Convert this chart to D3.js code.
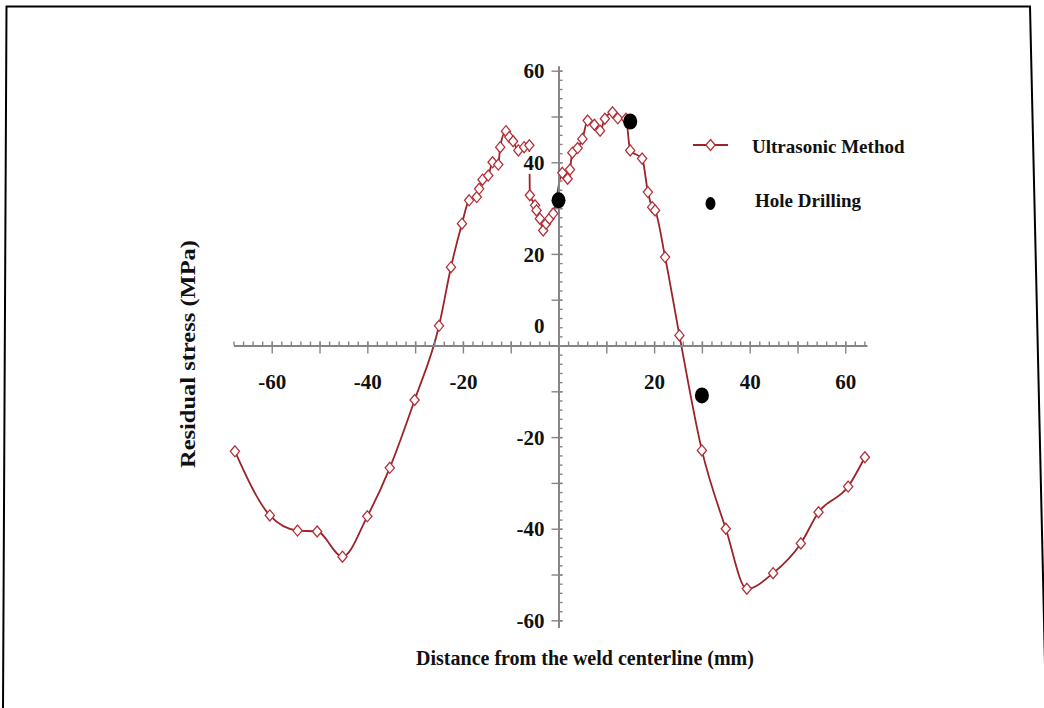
<!DOCTYPE html>
<html>
<head>
<meta charset="utf-8">
<script src="https://cdn.jsdelivr.net/npm/d3@7"></script>
<style>
  html, body { margin: 0; padding: 0; background: #fff; }
  svg { display: block; }
  text { font-family: "Liberation Serif", "Times New Roman", serif; font-weight: bold; fill: #111; }
</style>
</head>
<body>
<svg id="chart" width="1044" height="708"></svg>
<script>
// Ultrasonic measurements: distance from weld centerline (mm) and residual stress (MPa)
const ultraX = [-67.7, -60.4, -54.6, -50.5, -45.2, -40.0, -35.3, -30.1, -25.0, -22.5,
                -20.2, -18.7, -17.1, -16.6, -15.9, -14.7, -13.8, -12.6, -12.2, -11.0,
                -10.3, -9.5, -8.4, -7.2, -6.1, -6.0, -4.9, -4.6, -3.9, -3.2,
                -2.6, -1.9, -1.1, 0.8, 1.9, 2.4, 2.9, 4.0, 5.0, 6.1,
                7.5, 8.7, 9.7, 11.3, 12.4, 14.1, 15.0, 17.5, 18.7, 19.6,
                20.2, 22.3, 25.3, 30.0, 35.0, 39.4, 44.9, 50.7, 54.4, 60.6, 64.1];
const ultraY = [-23.1, -37.1, -40.4, -40.6, -46.1, -37.3, -26.7, -11.9, 4.3, 17.1,
                26.6, 31.7, 32.4, 34.2, 36.2, 37.1, 40.0, 39.5, 43.3, 46.8,
                45.5, 44.6, 42.6, 43.3, 43.7, 32.8, 30.6, 29.5, 27.7, 25.1,
                26.6, 27.7, 28.8, 37.7, 36.4, 38.4, 42.1, 43.1, 45.1, 49.1,
                48.2, 46.9, 49.5, 50.9, 49.6, 49.5, 42.6, 40.8, 33.5, 30.2,
                29.5, 19.3, 2.2, -22.9, -40.0, -53.1, -49.7, -43.2, -36.4, -30.8, -24.4];

// Hole drilling measurements
const holeX = [0, 15, 30];
const holeY = [31.7, 48.9, -10.9];

// Axis ticks
const xMajor = [-60, -50, -40, -30, -20, -10, 10, 20, 30, 40, 50, 60];
const xLabels = [-60, -40, -20, 20, 40, 60];
const xMinor = d3.range(-68, 65, 2);
const yMajor = [-60, -50, -40, -30, -20, -10, 0, 10, 20, 30, 40, 50, 60];
const yLabels = [60, 40, 20, 0, -20, -40, -60];
const yMinor = d3.range(-60, 61, 2);

const seriesNames = ["Ultrasonic Method", "Hole Drilling"];
const xTitle = "Distance from the weld centerline (mm)";
const yTitle = "Residual stress (MPa)";

const lineColor = "#9a2428";
const markColor = "#b3303a";
const axisColor = "#858585";

const svg = d3.select("#chart");
const x = d3.scaleLinear().domain([-68, 64.5]).range([233.5, 866.8]);
const y = d3.scaleLinear().domain([-61.5, 61]).range([627.2, 66.1]);

// Page frame
svg.append("path")
  .attr("d", "M3,708 L6.5,6.5 L1030,6.5 L1046,708")
  .attr("fill", "none").attr("stroke", "#000").attr("stroke-width", 2);

// Diamond marker
const diamond = { draw(ctx) { ctx.moveTo(0, -5.5); ctx.lineTo(4.6, 0); ctx.lineTo(0, 5.5); ctx.lineTo(-4.6, 0); ctx.closePath(); } };
const diamondPath = d3.symbol().type(diamond)();

const pts = ultraX.map((v, i) => ({ x: v, y: ultraY[i] }));

// Ultrasonic curve
svg.append("path")
  .datum(pts)
  .attr("fill", "none")
  .attr("stroke", lineColor)
  .attr("stroke-width", 1.8)
  .attr("d", d3.line().x(d => x(d.x)).y(d => y(d.y)).curve(d3.curveMonotoneX));

// X axis through y = 0
const gx = svg.append("g").attr("transform", `translate(0,${y(0)})`);
gx.append("g")
  .call(d3.axisTop(x).tickValues(xMinor).tickSize(4).tickSizeOuter(0).tickFormat(""));
const gxMaj = gx.append("g")
  .call(d3.axisBottom(x).tickValues(xMajor).tickSizeInner(8).tickSizeOuter(0)
    .tickFormat(d => xLabels.includes(d) ? String(d) : ""));
gxMaj.selectAll(".tick line").attr("y1", -4);
gxMaj.selectAll(".tick text").attr("y", 43).attr("dy", 0).attr("font-size", 21);

// Y axis through x = 0
const gy = svg.append("g").attr("transform", `translate(${x(0)},0)`);
gy.append("g")
  .call(d3.axisRight(y).tickValues(yMinor).tickSize(4).tickSizeOuter(0).tickFormat(""));
const gyMaj = gy.append("g")
  .call(d3.axisLeft(y).tickValues(yMajor).tickSizeInner(7).tickPadding(7).tickSizeOuter(0)
    .tickFormat(d => yLabels.includes(d) ? String(d) : ""));
gyMaj.selectAll(".tick line").attr("x1", 4);
gyMaj.selectAll(".tick text")
  .attr("font-size", 21)
  .attr("dy", "0.34em")
  .attr("y", d => d === 0 ? -20 : 0);

svg.selectAll(".domain").attr("stroke", axisColor).attr("stroke-width", 1.8);
svg.selectAll(".tick line").attr("stroke", axisColor).attr("stroke-width", 1.4);
svg.selectAll(".tick text").attr("font-family", null).attr("fill", "#111");

// White boxes behind the y tick labels
gyMaj.selectAll(".tick").each(function () {
  const t = d3.select(this).select("text");
  if (!t.text()) return;
  const b = t.node().getBBox();
  d3.select(this).insert("rect", "text")
    .attr("x", b.x - 3).attr("y", b.y + 1)
    .attr("width", b.width + 5).attr("height", b.height - 2)
    .attr("fill", "#fff");
});

// Markers
svg.append("g").selectAll("path")
  .data(pts).join("path")
  .attr("d", diamondPath)
  .attr("transform", d => `translate(${x(d.x)},${y(d.y)})`)
  .attr("fill", "#fff")
  .attr("stroke", markColor)
  .attr("stroke-width", 1.3);

svg.append("g").selectAll("ellipse")
  .data(holeX.map((v, i) => ({ x: v, y: holeY[i] }))).join("ellipse")
  .attr("cx", d => x(d.x)).attr("cy", d => y(d.y))
  .attr("rx", 7).attr("ry", 8)
  .attr("fill", "#000");

// Axis titles
svg.append("text")
  .attr("x", 585).attr("y", 665)
  .attr("text-anchor", "middle").attr("font-size", 20)
  .text(xTitle);
svg.append("text")
  .attr("transform", "translate(188,354) rotate(-90)")
  .attr("text-anchor", "middle").attr("dy", "0.35em").attr("font-size", 20)
  .attr("textLength", 228).attr("lengthAdjust", "spacingAndGlyphs")
  .text(yTitle);

// Legend
const lg = svg.append("g");
lg.append("line").attr("x1", 693).attr("x2", 728).attr("y1", 145).attr("y2", 145)
  .attr("stroke", lineColor).attr("stroke-width", 1.8);
lg.append("path").attr("d", diamondPath).attr("transform", "translate(710.5,145)")
  .attr("fill", "#fff").attr("stroke", markColor).attr("stroke-width", 1.3);
lg.append("text").attr("x", 752).attr("y", 153).attr("font-size", 19).text(seriesNames[0]);
lg.append("ellipse").attr("cx", 710.5).attr("cy", 203.5).attr("rx", 5).attr("ry", 6.5).attr("fill", "#000");
lg.append("text").attr("x", 755).attr("y", 207).attr("font-size", 19).text(seriesNames[1]);
</script>
</body>
</html>
